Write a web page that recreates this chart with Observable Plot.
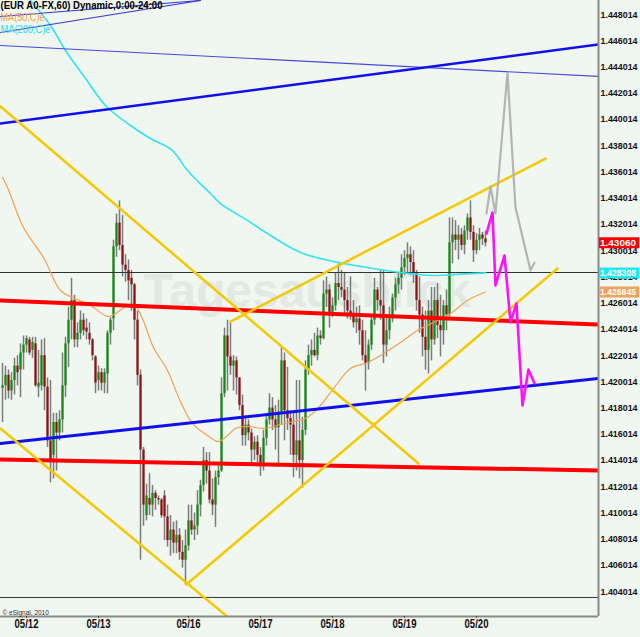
<!DOCTYPE html>
<html><head><meta charset="utf-8">
<script src="https://cdn.jsdelivr.net/npm/d3@7"></script>
<script src="https://cdn.jsdelivr.net/npm/@observablehq/plot@0.6"></script>
<style>html,body{margin:0;padding:0;background:#f0f6f0;overflow:hidden;}</style>
</head><body><div id="chart"></div>
<script>
// ---- hourly candles EUR A0-FX (bar index 0..161) ----
const open = [1.4195,1.4197,1.4205,1.4193,1.4201,1.4212,1.4209,1.4222,1.4228,1.4232,1.4224,1.4229,1.4196,1.4197,1.4220,1.4196,1.4155,1.4144,1.4169,1.4161,
1.4171,1.4197,1.4229,1.4247,1.4262,1.4232,1.4237,1.4247,1.4241,1.4237,1.4232,1.4219,1.4201,1.4207,1.4199,1.4206,1.4237,1.4248,1.4303,1.4321,
1.4304,1.4289,1.4285,1.4279,1.4274,1.4247,1.4205,1.4148,1.4098,1.4111,1.4106,1.4115,1.4111,1.4110,1.4113,1.4097,1.4079,1.4087,1.4077,1.4083,
1.4070,1.4064,1.4075,1.4094,1.4087,1.4090,1.4106,1.4121,1.4140,1.4132,1.4110,1.4106,1.4127,1.4132,1.4191,1.4235,1.4219,1.4212,1.4216,1.4203,
1.4182,1.4159,1.4167,1.4161,1.4148,1.4154,1.4144,1.4138,1.4157,1.4171,1.4180,1.4171,1.4165,1.4177,1.4216,1.4178,1.4172,1.4167,1.4144,1.4155,
1.4140,1.4163,1.4209,1.4220,1.4224,1.4220,1.4235,1.4233,1.4267,1.4270,1.4253,1.4258,1.4275,1.4272,1.4270,1.4262,1.4254,1.4251,1.4245,1.4248,
1.4239,1.4220,1.4214,1.4228,1.4247,1.4270,1.4262,1.4258,1.4228,1.4239,1.4248,1.4264,1.4274,1.4279,1.4287,1.4294,1.4297,1.4291,1.4283,1.4262,
1.4251,1.4234,1.4224,1.4254,1.4232,1.4262,1.4243,1.4239,1.4258,1.4251,1.4306,1.4312,1.4308,1.4312,1.4304,1.4315,1.4325,1.4314,1.4300,1.4308,
1.4312,1.4309];
const high = [1.4214,1.4212,1.4209,1.4207,1.4218,1.4220,1.4229,1.4235,1.4235,1.4234,1.4234,1.4234,1.4224,1.4232,1.4233,1.4203,1.4201,1.4176,1.4176,1.4178,
1.4222,1.4234,1.4257,1.4279,1.4266,1.4245,1.4254,1.4252,1.4248,1.4245,1.4233,1.4220,1.4212,1.4210,1.4210,1.4239,1.4249,1.4308,1.4328,1.4338,
1.4327,1.4297,1.4293,1.4285,1.4275,1.4254,1.4209,1.4150,1.4122,1.4130,1.4121,1.4117,1.4113,1.4111,1.4117,1.4106,1.4098,1.4093,1.4094,1.4088,
1.4079,1.4087,1.4106,1.4106,1.4100,1.4117,1.4125,1.4150,1.4146,1.4146,1.4126,1.4132,1.4136,1.4203,1.4241,1.4247,1.4245,1.4220,1.4219,1.4203,
1.4190,1.4174,1.4171,1.4164,1.4158,1.4159,1.4150,1.4163,1.4174,1.4191,1.4188,1.4182,1.4186,1.4226,1.4222,1.4211,1.4178,1.4178,1.4201,1.4201,
1.4173,1.4216,1.4228,1.4232,1.4237,1.4241,1.4239,1.4277,1.4280,1.4274,1.4264,1.4283,1.4290,1.4285,1.4283,1.4272,1.4280,1.4262,1.4257,1.4258,
1.4247,1.4239,1.4232,1.4249,1.4279,1.4272,1.4285,1.4285,1.4249,1.4257,1.4267,1.4279,1.4283,1.4297,1.4300,1.4306,1.4303,1.4300,1.4285,1.4280,
1.4257,1.4254,1.4262,1.4272,1.4272,1.4275,1.4266,1.4262,1.4270,1.4325,1.4325,1.4323,1.4319,1.4317,1.4319,1.4328,1.4338,1.4319,1.4313,1.4317,
1.4314,1.4315];
const low = [1.4169,1.4186,1.4187,1.4186,1.4190,1.4197,1.4188,1.4209,1.4222,1.4220,1.4218,1.4196,1.4188,1.4193,1.4178,1.4150,1.4123,1.4126,1.4132,1.4155,
1.4161,1.4188,1.4211,1.4232,1.4226,1.4226,1.4232,1.4235,1.4232,1.4228,1.4216,1.4191,1.4193,1.4193,1.4191,1.4191,1.4228,1.4239,1.4295,1.4300,
1.4280,1.4276,1.4262,1.4254,1.4232,1.4197,1.4064,1.4090,1.4094,1.4098,1.4097,1.4102,1.4106,1.4096,1.4079,1.4074,1.4067,1.4069,1.4069,1.4064,
1.4058,1.4045,1.4071,1.4083,1.4079,1.4083,1.4097,1.4116,1.4122,1.4107,1.4098,1.4089,1.4121,1.4131,1.4188,1.4193,1.4205,1.4193,1.4190,1.4178,
1.4151,1.4151,1.4155,1.4138,1.4140,1.4136,1.4128,1.4132,1.4151,1.4167,1.4163,1.4148,1.4135,1.4167,1.4155,1.4163,1.4144,1.4127,1.4132,1.4126,
1.4119,1.4159,1.4205,1.4212,1.4219,1.4216,1.4228,1.4232,1.4257,1.4241,1.4249,1.4254,1.4262,1.4264,1.4251,1.4248,1.4247,1.4241,1.4237,1.4228,
1.4216,1.4193,1.4209,1.4224,1.4243,1.4254,1.4247,1.4214,1.4219,1.4232,1.4245,1.4254,1.4267,1.4270,1.4281,1.4283,1.4281,1.4275,1.4254,1.4237,
1.4219,1.4209,1.4206,1.4216,1.4228,1.4233,1.4219,1.4228,1.4239,1.4247,1.4290,1.4300,1.4293,1.4300,1.4297,1.4308,1.4308,1.4291,1.4297,1.4300,
1.4304,1.4303];
const close = [1.4197,1.4205,1.4193,1.4201,1.4212,1.4207,1.4222,1.4228,1.4233,1.4222,1.4230,1.4197,1.4199,1.4220,1.4196,1.4155,1.4140,1.4169,1.4161,1.4171,
1.4197,1.4229,1.4247,1.4262,1.4232,1.4237,1.4247,1.4239,1.4238,1.4232,1.4220,1.4199,1.4207,1.4199,1.4207,1.4237,1.4247,1.4303,1.4321,1.4304,
1.4289,1.4285,1.4277,1.4274,1.4247,1.4205,1.4148,1.4106,1.4113,1.4106,1.4115,1.4111,1.4110,1.4098,1.4097,1.4079,1.4087,1.4077,1.4083,1.4070,
1.4064,1.4075,1.4094,1.4087,1.4090,1.4106,1.4121,1.4140,1.4132,1.4110,1.4106,1.4127,1.4132,1.4191,1.4235,1.4219,1.4212,1.4216,1.4203,1.4182,
1.4159,1.4167,1.4161,1.4148,1.4154,1.4144,1.4138,1.4157,1.4171,1.4180,1.4171,1.4165,1.4177,1.4216,1.4178,1.4172,1.4167,1.4144,1.4155,1.4140,
1.4163,1.4209,1.4220,1.4224,1.4220,1.4235,1.4233,1.4267,1.4270,1.4253,1.4258,1.4275,1.4272,1.4270,1.4262,1.4254,1.4251,1.4245,1.4248,1.4239,
1.4220,1.4214,1.4228,1.4247,1.4270,1.4262,1.4258,1.4228,1.4239,1.4248,1.4264,1.4274,1.4279,1.4287,1.4294,1.4297,1.4291,1.4283,1.4262,1.4251,
1.4234,1.4224,1.4254,1.4232,1.4262,1.4243,1.4239,1.4258,1.4251,1.4306,1.4312,1.4308,1.4312,1.4304,1.4315,1.4325,1.4314,1.4300,1.4308,1.4312,
1.4309,1.4306];

// ---- x axis: day labels at first bar index of each day ----
const dayLabels = ["05/12","05/13","05/16","05/17","05/18","05/19","05/20"];
const dayStart  = [8, 32, 62, 86, 110, 134, 158];

// ---- y axis tick labels ----
const yTicks = [1.404014,1.406014,1.408014,1.410014,1.412014,1.414014,1.416014,1.418014,1.420014,1.422014,1.424014,
  1.426014,1.428014,1.430014,1.432014,1.434014,1.436014,1.438014,1.440014,1.442014,1.444014,1.446014,1.448014];

// ---- moving averages (bar index, price) ----
const ma50 = [[0,1.43558],[1.67,1.43482],[7,1.43177],[13.67,1.42948],[19.33,1.42697],[23.33,1.42643],[29.33,1.42582],[35,1.42499],
  [37.67,1.42521],[41.67,1.42582],[44.33,1.42575],[46.67,1.42483],[50.33,1.42262],[55,1.42087],[59.33,1.41850],[63.33,1.41683],
  [68.33,1.41591],[72,1.41545],[75,1.41591],[77.67,1.41644],[81.67,1.41660],[87,1.41644],[92.67,1.41675],[97,1.41698],[101.67,1.41728],
  [106,1.41820],[110.33,1.41949],[116,1.42102],[121.67,1.42148],[127,1.42216],[132.67,1.42300],[138.33,1.42392],[143.67,1.42453],
  [149.33,1.42521],[155,1.42621],[161,1.42685]];
const ma200 = [[9.33,1.44908],[16,1.44718],[21,1.44527],[27.67,1.44313],[34.33,1.44108],[42.67,1.43955],[49.33,1.43856],[56.67,1.43764],
  [61.67,1.43612],[69.33,1.43436],[72.67,1.43360],[81.67,1.43231],[88.33,1.43131],[99.33,1.42986],[110.33,1.42918],[121.67,1.42872],
  [132.67,1.42834],[143.67,1.42811],[152.67,1.42822],[161,1.42831]];

// ---- drawn trend lines (bar index, price) ----
const blueUpperThick = [[-0.67,1.43970],[198.67,1.44573]];
const blueUpperThin  = [[-0.67,1.44565],[198.67,1.44329]];
const blueTopA = [[-0.67,1.44664],[66,1.44908]];
const blueTopB = [[-0.67,1.44786],[66,1.44908]];
const blueLower = [[-0.67,1.41530],[198.67,1.42026]];
const redUpper = [[-0.67,1.42621],[198.67,1.42437]];
const redLower = [[-0.67,1.41408],[198.67,1.41324]];
const yellowDown1 = [[-0.67,1.44100],[138.67,1.41378]];
const yellowDown2 = [[-0.67,1.41644],[75.67,1.40196]];
const yellowUp1 = [[61.33,1.40455],[185,1.42865]];
const yellowUp2 = [[76,1.42460],[181,1.43703]];
const hLevels = [1.42834, 1.40356];

// ---- projections ----
const greyPath = [[161.33,1.43284],[162.67,1.43490],[164.33,1.43284],[168.33,1.44359],[171,1.43330],[176,1.42849],[177.33,1.42910]];
const magentaPath = [[161.33,1.43131],[163.33,1.43292],[164.33,1.42735],[167.33,1.42964],[169.33,1.42453],[171.33,1.42598],
  [173.33,1.41820],[175.33,1.42094],[177.33,1.41988]];

// ---- last value tags ----
const tagValues = [1.43060, 1.428308, 1.426845];
const tagLabels = ["1.43060", "1.428308", "1.426845"];
const tagColors = ["#ff0000", "#22e8f0", "#f0a060"];

// ---- build ----
const bars = open.map((o, k) => ({k, o, h: high[k], l: low[k], c: close[k]}));
const tags = tagValues.map((v, j) => ({v, label: tagLabels[j], color: tagColors[j]}));
const labelOf = new Map(dayStart.map((s, j) => [s, dayLabels[j]]));
const xMin = -0.67, xMax = 198.67;
const sans = "'Liberation Sans',Arial,sans-serif";
const P = d => d[0], Q = d => d[1];

const chart = Plot.plot({
  width: 640, height: 637,
  marginLeft: 0, marginRight: 42, marginTop: 0, marginBottom: 21,
  style: {background: "#f0f6f0", fontFamily: sans, overflow: "visible"},
  x: {domain: [xMin, xMax], axis: null, label: null},
  y: {domain: [1.402108, 1.449082], axis: null, label: null},
  marks: [
    Plot.text(["Tagesausblick"], {frameAnchor: "top-left", dx: 143, dy: 272, lineAnchor: "top", textAnchor: "start",
      fontSize: 48, fontWeight: "bold", fill: "#e2e9e2"}),
    // candles
    Plot.ruleX(bars, {x: "k", y1: "l", y2: "h", stroke: "#7c7c7c", strokeWidth: 1.5}),
    Plot.ruleX(bars, {x: "k", y1: "o", y2: d => (Math.abs(d.c - d.o) < 0.00006 ? d.o + 0.00006 : d.c),
      stroke: d => d.c >= d.o ? "#108a10" : "#8e1010", strokeWidth: 2.2}),
    // horizontal levels
    Plot.ruleY(hLevels, {y: d => d, stroke: "#333", strokeWidth: 1}),
    // moving averages
    Plot.line(ma50, {x: P, y: Q, stroke: "#f2a050", strokeWidth: 1.2, curve: "catmull-rom", clip: true}),
    Plot.line(ma200, {x: P, y: Q, stroke: "#30e4f0", strokeWidth: 1.6, curve: "catmull-rom", clip: true}),
    // trend lines
    Plot.line(blueUpperThin, {x: P, y: Q, stroke: "#4a4ad8", strokeWidth: 1.2, clip: true}),
    Plot.line(blueTopA, {x: P, y: Q, stroke: "#3c3ccc", strokeWidth: 1.2, clip: true}),
    Plot.line(blueTopB, {x: P, y: Q, stroke: "#3c3ccc", strokeWidth: 1.2, clip: true}),
    Plot.line(blueUpperThick, {x: P, y: Q, stroke: "#1010ee", strokeWidth: 2.5, clip: true}),
    Plot.line(redUpper, {x: P, y: Q, stroke: "#ff0000", strokeWidth: 4, clip: true}),
    Plot.line(redLower, {x: P, y: Q, stroke: "#ff0000", strokeWidth: 4, clip: true}),
    Plot.line(blueLower, {x: P, y: Q, stroke: "#1010ee", strokeWidth: 3, clip: true}),
    Plot.line(yellowDown1, {x: P, y: Q, stroke: "#f5c800", strokeWidth: 2.5, clip: true}),
    Plot.line(yellowDown2, {x: P, y: Q, stroke: "#f5c800", strokeWidth: 2.5, clip: true}),
    Plot.line(yellowUp1, {x: P, y: Q, stroke: "#f5c800", strokeWidth: 2.5, clip: true}),
    Plot.line(yellowUp2, {x: P, y: Q, stroke: "#f5c800", strokeWidth: 2.5, clip: true}),
    // projections
    Plot.line(greyPath, {x: P, y: Q, stroke: "#b4b4b4", strokeWidth: 2.2, clip: true}),
    Plot.line(magentaPath, {x: P, y: Q, stroke: "#ff10ff", strokeWidth: 2.6, clip: true}),
    // frame borders
    Plot.ruleX([xMax], {stroke: "#8a8a8a", strokeWidth: 2}),
    Plot.ruleY([1.402108], {stroke: "#8a8a8a", strokeWidth: 2}),
    // axes
    Plot.axisY(yTicks, {anchor: "right", tickSize: 0, tickPadding: 2, tickFormat: d => d.toFixed(6), label: null,
      fontSize: 9.5, fontWeight: "bold", fill: "#111", className: "yax"}),
    Plot.axisX(dayStart, {anchor: "bottom", tickSize: 2, tickPadding: 1, tickFormat: d => labelOf.get(d), label: null,
      fontSize: 12, fontWeight: "bold", fill: "#111", stroke: "#444", className: "xax"}),
    // value tags
    Plot.ruleY(tags, {y: "v", x1: xMax + 0.3, x2: xMax + 13.7, stroke: "color", strokeWidth: 11}),
    Plot.text(tags, {y: "v", x: xMax + 0.5, text: "label", textAnchor: "start", fill: "white", fontSize: 9.5,
      fontWeight: "bold", className: "tagtxt"}),
    // legend / captions
    Plot.text(["(EUR A0-FX,60) Dynamic,0:00-24:00"], {frameAnchor: "top-left", dx: 0, dy: 1, lineAnchor: "top",
      textAnchor: "start", fontSize: 10, fontWeight: "bold", fill: "#000", className: "leg1"}),
    Plot.text(["MA(50,C)e"], {frameAnchor: "top-left", dx: 0, dy: 13, lineAnchor: "top", textAnchor: "start",
      fontSize: 10.5, fill: "#f2a050", className: "leg2"}),
    Plot.text(["MA(200,C)e"], {frameAnchor: "top-left", dx: 0, dy: 25, lineAnchor: "top", textAnchor: "start",
      fontSize: 10.5, fill: "#22e0ea", className: "leg3"}),
    Plot.text(["© eSignal, 2010"], {frameAnchor: "bottom-left", dx: 2, dy: -2, lineAnchor: "bottom", textAnchor: "start",
      fontSize: 6.5, fill: "#333"})
  ]
});
// condense texts like the narrow terminal font
const squeeze = (sel, len) => d3.select(chart).selectAll(sel).attr("textLength", len).attr("lengthAdjust", "spacingAndGlyphs");
squeeze(".yax text", 37);
squeeze(".tagtxt text", 36);
squeeze(".xax text", 24);
squeeze(".leg1 text", 162);
squeeze(".leg2 text", 44);
squeeze(".leg3 text", 50);
document.getElementById("chart").appendChild(chart);
</script>
</body></html>
